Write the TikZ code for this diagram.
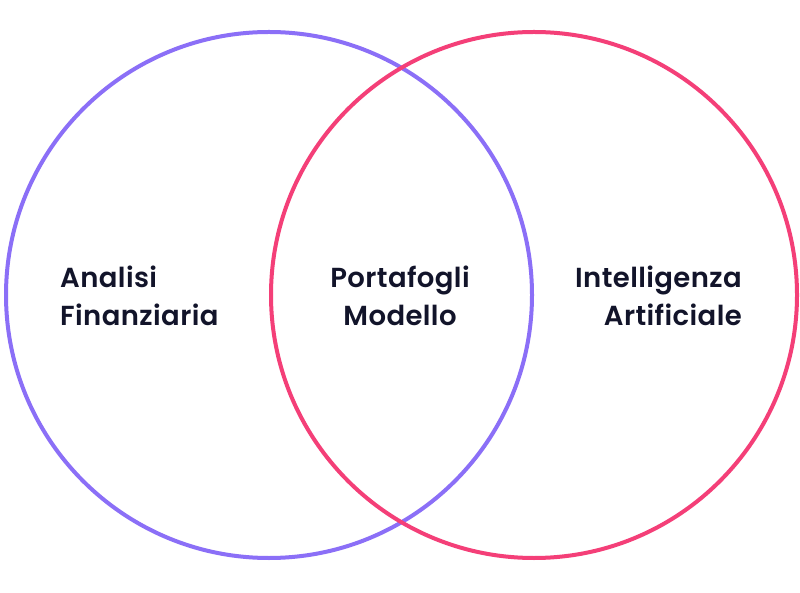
\documentclass[tikz,border=0pt]{standalone}
\usepackage{fontspec}
\setmainfont{Poppins SemiBold}[LetterSpace=1.5]
\definecolor{lpurple}{HTML}{8B6FF7}
\definecolor{lpink}{HTML}{F43F78}
\definecolor{txt}{HTML}{12142A}
\begin{document}
\begin{tikzpicture}[x=1pt,y=1pt,
  ring/.style={line width=4pt},
  lbl/.style={text=txt,font=\fontsize{27.5}{38}\selectfont,inner sep=0pt}]
\useasboundingbox (0,0) rectangle (800,592);
\fill[white] (0,0) rectangle (800,592);
\node[draw=lpurple,ring,circle,minimum size=526pt,inner sep=0pt] (left) at (269,297) {};
\node[draw=lpink,ring,circle,minimum size=526pt,inner sep=0pt] (right) at (534,297) {};
\node[lbl,align=left,anchor=west] (fin) at (60,296) {Analisi\\Finanziaria};
\node[lbl,align=center] (mid) at (400,296) {Portafogli\\Modello};
\node[lbl,align=right,anchor=east] (ai) at (742,296) {Intelligenza\\Artificiale};
\end{tikzpicture}
\end{document}
